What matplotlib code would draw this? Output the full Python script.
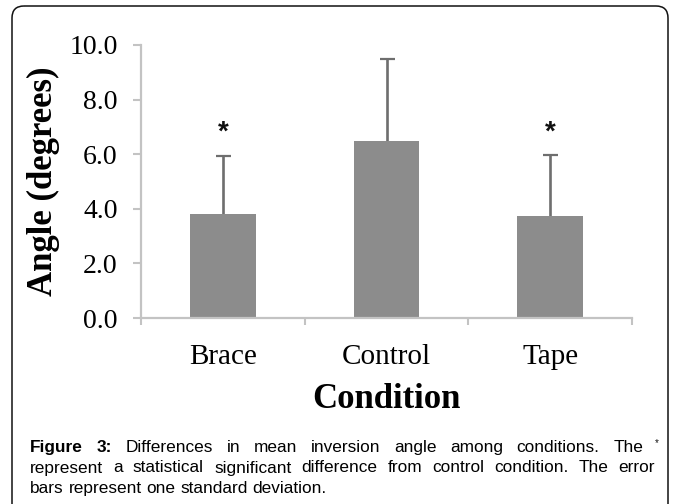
import matplotlib
matplotlib.use("Agg")
import matplotlib.pyplot as plt
from matplotlib.patches import FancyBboxPatch

categories = ["Brace", "Control", "Tape"]
means = [3.81, 6.47, 3.75]
sds = [2.11, 3.01, 2.23]
significant = [True, False, True]
yticks = [0.0, 2.0, 4.0, 6.0, 8.0, 10.0]
ytick_labels = ["0.0", "2.0", "4.0", "6.0", "8.0", "10.0"]
ylabel = "Angle (degrees)"
xlabel = "Condition"
caption_lines = [
    ["Figure", "3:", "Differences", "in", "mean", "inversion", "angle", "among", "conditions.", "The"],
    "represent a statistical significant difference from control condition. The error".split(),
    "bars represent one standard deviation.".split(),
]

W, H = 675, 504
fig = plt.figure(figsize=(6.75, 5.04), dpi=100)
fig.patch.set_facecolor("white")

def fx(px):
    return px / W

def fy(py):
    return 1 - py / H

serif = ["Liberation Serif", "DejaVu Serif"]
sans = ["Liberation Sans", "DejaVu Sans"]

ax = fig.add_axes([fx(141), fy(318), fx(632) - fx(141), fy(45) - fy(318)])
x = list(range(len(categories)))
ax.bar(x, means, width=0.40, color="#8c8c8c", zorder=2)
eb = ax.errorbar(x, means, yerr=[[0] * len(sds), sds], fmt="none", ecolor="#6e6e6e",
                 elinewidth=1.9, capsize=5.4, capthick=1.6, zorder=1)
caplines = eb[1]
if len(caplines) == 2:
    caplines[0].set_visible(False)
for xi, m, s, sig in zip(x, means, sds, significant):
    if sig:
        ax.text(xi, 6.55, "*", ha="center", va="baseline", fontsize=20,
                fontweight="bold", family=sans, color="#111111")

ax.set_xlim(-0.5, 2.5)
ax.set_ylim(0, 10)
for s in ["top", "right"]:
    ax.spines[s].set_visible(False)
for s in ["left", "bottom"]:
    ax.spines[s].set_color("#c3c3c3")
    ax.spines[s].set_linewidth(1.6)
    ax.spines[s].set_zorder(3)
ax.set_yticks(yticks)
ax.set_yticklabels(ytick_labels, family=serif, fontsize=20)
ax.tick_params(axis="y", direction="out", length=5.8, width=1.5, color="#c3c3c3", pad=11)
ax.set_xticks([-0.5, 0.5, 1.5, 2.5])
ax.set_xticklabels([])
ax.tick_params(axis="x", which="major", direction="out", length=5, width=1.5, color="#c3c3c3")
ax.set_xticks(x, minor=True)
ax.set_xticklabels(categories, minor=True, family=serif, fontsize=21)
ax.tick_params(axis="x", which="minor", length=0, pad=19)
ax.set_xlabel(xlabel, family=serif, fontsize=25, fontweight="bold", labelpad=9)
ax.set_ylabel(ylabel, family=serif, fontsize=25, fontweight="bold", labelpad=7)

# overlay axes in pixel coordinates
ov = fig.add_axes([0, 0, 1, 1], zorder=-1)
ov.set_xlim(0, W)
ov.set_ylim(H, 0)
ov.axis("off")
ov.patch.set_alpha(0)
box = FancyBboxPatch((12, 6), 656, 540, boxstyle="round,pad=0,rounding_size=12",
                     fill=False, edgecolor="#111111", linewidth=1.1, clip_on=False)
ov.add_patch(box)

renderer = fig.canvas.get_renderer()
fs = 12.4
baselines = [452, 472.5, 493]
rights = [643, 655, None]
left = 30
for li, words in enumerate(caption_lines):
    texts = []
    for wi, w in enumerate(words):
        bold = (li == 0 and wi < 2)
        t = ov.text(0, baselines[li], w, fontsize=fs, family=sans,
                    fontweight="bold" if bold else "normal", va="baseline", ha="left",
                    color="#000000")
        texts.append(t)
    widths = [t.get_window_extent(renderer).width for t in texts]
    if rights[li] is not None:
        gap = (rights[li] - left - sum(widths)) / (len(words) - 1)
    else:
        gap = 0.278 * fs * 100 / 72
    xpos = left
    for t, wd in zip(texts, widths):
        t.set_x(xpos)
        xpos += wd + gap
ov.text(657, 446, "*", fontsize=7, family=sans, ha="center", va="baseline", color="#111111")

fig.savefig("out.png", dpi=100)
